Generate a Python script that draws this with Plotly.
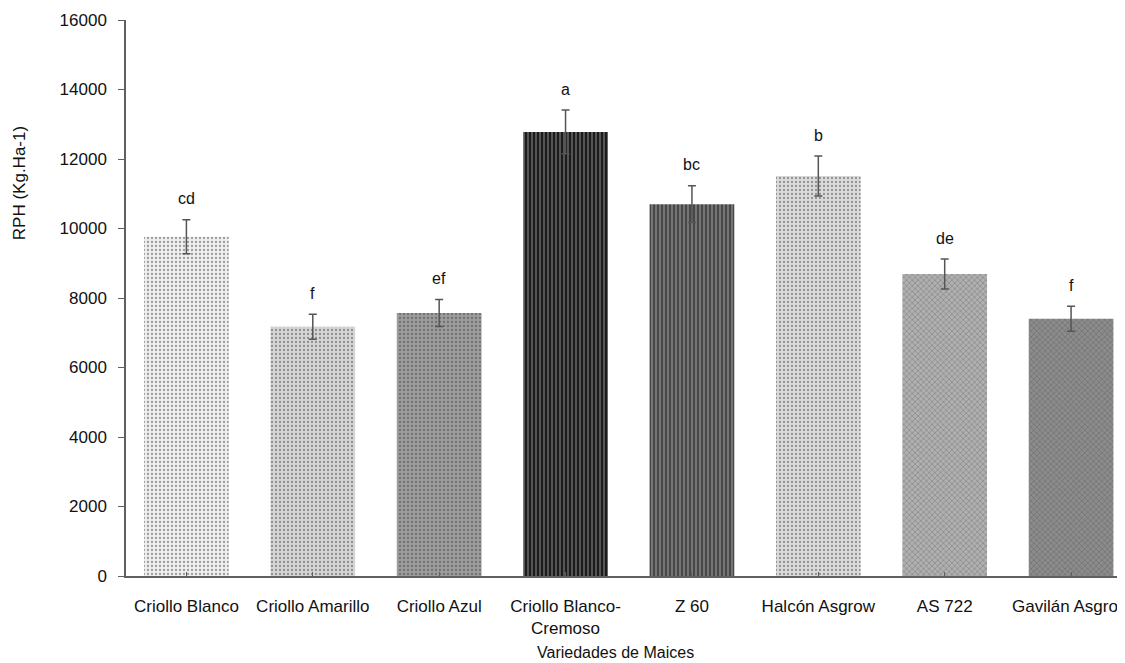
import plotly.graph_objects as go

categories = ["Criollo Blanco", "Criollo Amarillo", "Criollo Azul", "Criollo Blanco-<br>Cremoso",
              "Z 60", "Halcón Asgrow", "AS 722", "Gavilán Asgrow"]
rph_mean = [9760, 7170, 7570, 12780, 10700, 11510, 8690, 7400]
rph_err = [490, 360, 390, 630, 530, 575, 430, 360]
letters = ["cd", "f", "ef", "a", "bc", "b", "de", "f"]
bar_colors = ["#efefef", "#d6d6d6", "#9c9c9c", "#1c1c1c", "#474747", "#dbdbdb", "#b0b0b0", "#8c8c8c"]
pattern_shapes = [".", ".", ".", "|", "|", ".", "x", "x"]
pattern_fg = ["#e2e2e2", "#cbcbcb", "#909090", "#282828", "#3e3e3e", "#d0d0d0", "#a4a4a4", "#7e7e7e"]

xs = list(range(len(categories)))
FONT = "Liberation Sans, Arial"

fig = go.Figure()
fig.add_trace(go.Bar(
    x=xs, y=rph_mean, width=0.67,
    marker=dict(color=bar_colors, line=dict(width=0),
                pattern=dict(shape=pattern_shapes, fgcolor=pattern_fg, size=4, solidity=0.25)),
    error_y=dict(type="data", array=rph_err, visible=True, color="#555555", thickness=1.5, width=4),
    showlegend=False, hoverinfo="skip",
))

for i, (m, e, l) in enumerate(zip(rph_mean, rph_err, letters)):
    fig.add_annotation(x=i, y=m + e, text=l, showarrow=False, yshift=21,
                       font=dict(family=FONT, size=16, color="#111111"))

fig.add_annotation(xref="paper", yref="paper", x=-0.105, y=0.707, xanchor="center", yanchor="middle",
                   text="RPH (Kg.Ha-1)", textangle=-90, showarrow=False,
                   font=dict(family=FONT, size=17, color="#111111"))
fig.add_annotation(xref="paper", yref="paper", x=0.486, y=-0.137, xanchor="center", yanchor="middle",
                   text="Variedades de Maices", showarrow=False,
                   font=dict(family=FONT, size=16, color="#111111"))

fig.update_layout(
    width=1125, height=663,
    margin=dict(l=118, r=0, t=12, b=95, autoexpand=False),
    plot_bgcolor="white", paper_bgcolor="white",
    font=dict(family=FONT, color="#111111"),
)
fig.update_xaxes(
    range=[-0.478, 7.49], tickmode="array", tickvals=xs, ticktext=categories,
    showline=True, linecolor="#606060", linewidth=1.5, showgrid=False, zeroline=False,
    ticks="inside", tickson="boundaries", ticklen=4, tickcolor="#606060",
    tickfont=dict(family=FONT, size=17, color="#111111"), automargin=False,
    ticklabeloverflow="allow", ticklabelstandoff=14,
)
fig.update_yaxes(
    range=[0, 16000], tickvals=[0, 2000, 4000, 6000, 8000, 10000, 12000, 14000, 16000],
    tickformat="d",
    showline=True, linecolor="#606060", linewidth=1.5, showgrid=False, zeroline=False,
    ticks="outside", ticklen=6, tickcolor="#606060",
    tickfont=dict(family=FONT, size=17, color="#111111"), automargin=False,
    ticklabelstandoff=8,
)

fig.write_html("out.html")
